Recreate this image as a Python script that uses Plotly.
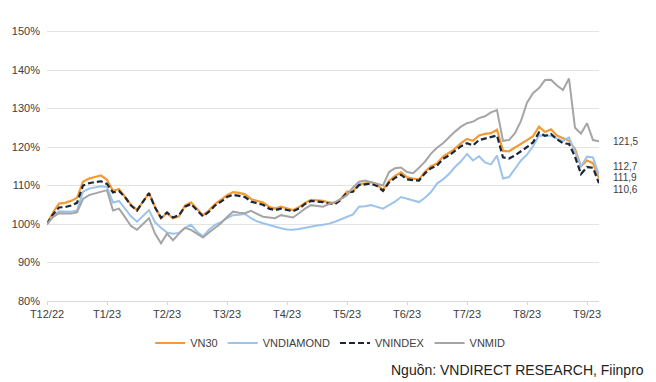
import plotly.graph_objects as go

tick_labels = ["T12/22", "T1/23", "T2/23", "T3/23", "T4/23", "T5/23", "T6/23", "T7/23", "T8/23", "T9/23"]
steps_per_month = 10

vn30 = [100, 103, 105.3, 105.5, 106, 106.8, 111, 111.8, 112.2, 112.6,
        111.5, 108.6, 109.1, 107.2, 105, 103.6, 105.8, 108, 104.5, 101.5,
        102.8, 101.5, 102, 104.8, 105.6, 104, 102.3, 103.5, 105.2, 106.3,
        107.5, 108.3, 108.1, 107.7, 106.5, 106, 105.6, 104.5, 104, 104.5,
        104, 103.6, 104.4, 105.5, 106.3, 106.2, 106, 105.6, 105.4, 106.6,
        108.4, 108.5, 110.3, 110.6, 110.9, 110.2, 108.8, 111.2, 112.5, 113.4,
        112.1, 111.8, 111.6, 113.6, 115, 115.7, 117.5, 118.5, 119.6, 121,
        122.1, 121.6, 123, 123.4, 123.6, 124.5, 119, 118.9, 119.8, 120.9,
        121.8, 122.8, 125.3, 123.9, 124.6, 123, 122.2, 121.6, 119.5, 115,
        116.5, 115.8, 111.9]

vnindex = [100, 102.5, 104.3, 104.4, 104.8, 105.5, 110, 110.6, 110.9, 111.1,
           110.4, 108.2, 108.6, 107, 104.8, 103.5, 105.8, 108, 104.3, 101.6,
           103, 101.7, 102.3, 104.5, 105.2, 103.6, 102, 103.2, 104.8, 105.8,
           107, 107.6, 107.3, 107, 105.8, 105.5, 105, 104, 103.6, 104,
           103.6, 103.3, 104, 105.2, 106, 105.9, 105.7, 105.3, 105.2, 106.3,
           108.2, 108.4, 110.1, 110.3, 110.5, 109.9, 108.6, 110.8, 112, 112.8,
           111.6, 111.4, 111.3, 113.2, 114.5, 115.2, 116.9, 117.8, 118.9, 120.2,
           121, 120.4, 121.8, 122.2, 122.5, 123, 117.3, 117, 117.8, 118.8,
           120, 121.2, 123.8, 122.9, 123.4, 122, 121, 120.8, 117.5, 113,
           114.8, 114.6, 110.6]

vndiamond = [100, 102, 103.3, 103.2, 103.2, 103.5, 108.4, 109.2, 109.5, 109.8,
             109.6, 105.6, 106, 104, 102, 100.6, 102.2, 103.6, 100.5, 99,
             97.8, 97.5, 97.7, 99, 99.8, 98, 96.8, 98.5, 99.8, 100.5,
             101.5, 102.3, 102.4, 102.6, 101.5, 100.7, 100.2, 99.7, 99.2, 98.9,
             98.6, 98.5, 98.7, 99, 99.4, 99.6, 99.8, 100.1, 100.6, 101.2,
             102, 102.5, 104.5, 104.6, 104.9, 104.4, 104, 104.9, 105.8, 107,
             106.5, 106, 105.7, 106.8, 108.3, 110.5, 111.6, 113, 114.8, 116.3,
             118.2, 116.5, 117.6, 116, 115.5, 117.8, 111.8, 112.2, 114.2, 116.5,
             118, 120.2, 123, 122.9, 122.9, 122.2, 121.6, 122.5, 118.5, 115,
             117.5, 117.3, 112.7]

vnmid = [100, 101.8, 102.8, 102.7, 102.7, 103, 106.5, 107.5, 108, 108.3,
         108.8, 103.5, 104, 101.8, 99.5, 98.5, 100, 101.5, 97.5, 95,
         97.5, 95.8, 97.5, 99, 98.5, 97.5, 96.5, 97.8, 99, 100.2,
         101.8, 103.2, 102.9, 102.8, 103.4, 102.6, 101.9, 101.7, 101.5, 102.3,
         101.9, 101.7, 102.8, 104, 104.9, 104.7, 104.5, 105.2, 105.7, 106.5,
         107.5, 109.5, 111, 111.3, 111, 110.5, 110, 113.5, 114.5, 114.7,
         113.5, 113.2, 114.6, 116.2, 118.3, 119.8, 121, 122.6, 124, 125.3,
         126.2, 126.6, 127.5, 128, 129, 129.6, 121.6, 121.8, 123.6, 126.8,
         131.5, 134, 135.3, 137.4, 137.5, 136, 134.8, 137.8, 125, 123.5,
         126.2, 121.8, 121.5]

y_ticks = [80, 90, 100, 110, 120, 130, 140, 150]

x = list(range(len(vn30)))
FONT = "Arial, Liberation Sans, sans-serif"

series = [
    ("VN30", vn30, dict(color="#F39B32", width=2.2)),
    ("VNDIAMOND", vndiamond, dict(color="#9CC3EC", width=2)),
    ("VNINDEX", vnindex, dict(color="#1C2638", width=2.2, dash="6px,3px")),
    ("VNMID", vnmid, dict(color="#A5A5A5", width=2)),
]

fig = go.Figure()
for name, vals, line in series:
    fig.add_trace(go.Scatter(x=x, y=vals, name=name, mode="lines", line=line))

# end labels
end_labels = [(vnmid, 0), (vndiamond, 9), (vn30, 1), (vnindex, -6)]
for vals, ys in end_labels:
    fig.add_annotation(x=x[-1], y=vals[-1], text=f"{vals[-1]:.1f}".replace(".", ","),
                       showarrow=False, xanchor="left", xshift=13, yshift=ys,
                       borderpad=0, font=dict(family=FONT, size=10, color="#404040"))

fig.add_annotation(xref="paper", yref="paper", x=1.085, y=-0.255, xanchor="right", yanchor="middle",
                   text="Nguồn: VNDIRECT RESEARCH, Fiinpro", showarrow=False,
                   font=dict(family=FONT, size=14, color="#222222"))

fig.update_layout(
    width=656, height=382,
    margin=dict(l=47, r=57, t=30, b=81),
    paper_bgcolor="white", plot_bgcolor="white",
    font=dict(family=FONT, size=11, color="#404040"),
    showlegend=True,
    legend=dict(orientation="h", x=0.513, y=-0.155, xanchor="center", yanchor="middle",
                font=dict(family=FONT, size=11, color="#404040"), itemwidth=30,
                bgcolor="rgba(0,0,0,0)"),
    xaxis=dict(range=[0, len(x) - 1], tickmode="array",
               tickvals=[i * steps_per_month for i in range(len(tick_labels))],
               ticktext=tick_labels, showgrid=False, zeroline=False,
               showline=True, linecolor="#D9D9D9", linewidth=1,
               ticks="outside", ticklen=3, tickcolor="#D9D9D9",
               tickfont=dict(size=11, color="#404040")),
    yaxis=dict(range=[80, 150.4], tickmode="array", tickvals=y_ticks,
               ticktext=[f"{v}%" for v in y_ticks], ticklabelstandoff=6,
               showgrid=True, gridcolor="#E3E3E3", gridwidth=1, zeroline=False,
               showline=False, ticks="", tickfont=dict(size=11, color="#404040")),
)

fig.write_html("out.html", config={"displayModeBar": False},
               post_script="document.body.style.margin='0px';")
